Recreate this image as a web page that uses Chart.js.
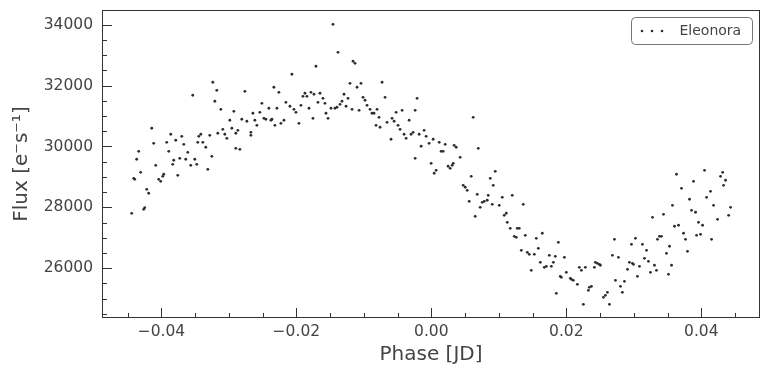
<!DOCTYPE html>
<html>
<head>
<meta charset="utf-8">
<script src="https://cdn.jsdelivr.net/npm/chart.js@4.4.1/dist/chart.umd.min.js"></script>
<style>
  html, body { margin: 0; padding: 0; background: #ffffff; }
  #wrap { width: 769px; height: 376px; }
</style>
</head>
<body>
<div id="wrap"><canvas id="c" width="769" height="376"></canvas></div>
<script>
const seriesLabel = "Eleonora";
const xTitle = "Phase [JD]";
const yTitle = "Flux [e\u207Bs\u207B\u00B9]";
const xTickValues = [-0.04, -0.02, 0.00, 0.02, 0.04];
const yTickValues = [26000, 28000, 30000, 32000, 34000];
const xRange = [-0.0488, 0.0487];
const yRange = [24366, 34483];

const phase = [
-0.04440,-0.04410,-0.04395,-0.04366,-0.04336,-0.04307,-0.04262,-0.04247,-0.04218,-0.04188,
-0.04143,-0.04114,-0.04084,-0.04039,-0.04010,-0.03980,-0.03965,-0.03921,-0.03891,-0.03861,
-0.03832,-0.03817,-0.03787,-0.03757,-0.03728,-0.03698,-0.03668,-0.03639,-0.03609,-0.03565,
-0.03535,-0.03505,-0.03476,-0.03461,-0.03446,-0.03416,-0.03386,-0.03342,-0.03312,-0.03283,
-0.03253,-0.03238,-0.03208,-0.03179,-0.03164,-0.03119,-0.03090,-0.03060,-0.03030,-0.02986,
-0.02956,-0.02926,-0.02897,-0.02897,-0.02867,-0.02837,-0.02808,-0.02763,-0.02733,-0.02674,
-0.02674,-0.02644,-0.02615,-0.02585,-0.02541,-0.02511,-0.02481,-0.02452,-0.02407,
-0.02377,-0.02362,-0.02333,-0.02318,-0.02288,-0.02259,-0.02229,-0.02184,-0.02155,-0.02095,
-0.02066,-0.02036,-0.02006,-0.01962,-0.01932,-0.01902,-0.01873,-0.01843,-0.01813,-0.01784,
-0.01754,-0.01739,-0.01710,-0.01680,-0.01650,-0.01606,-0.01576,-0.01561,-0.01531,-0.01487,
-0.01457,-0.01428,-0.01398,-0.01383,-0.01353,-0.01324,-0.01294,-0.01264,-0.01235,-0.01205,
-0.01175,-0.01160,-0.01131,-0.01101,-0.01071,-0.01042,-0.01012,-0.00982,-0.00953,-0.00908,
-0.00879,-0.00849,-0.00819,-0.00804,-0.00775,-0.00760,-0.00730,-0.00686,-0.00656,-0.00597,
-0.00582,-0.00552,-0.00522,-0.00493,-0.00463,-0.00433,-0.00404,-0.00374,-0.00329,-0.00300,
-0.00270,-0.00240,-0.00240,-0.00211,-0.00181,-0.00151,-0.00107,-0.00077,-0.00033,
-0.00003,0.00027,0.00042,0.00071,0.00116,0.00145,0.00175,0.00205,0.00249,0.00279,
0.00309,0.00324,0.00338,0.00368,0.00427,0.00472,0.00502,0.00531,0.00561,0.00591,
0.00620,0.00650,0.00680,0.00695,0.00724,0.00754,0.00784,0.00828,0.00843,0.00873,
0.00902,0.00917,0.00947,0.01006,0.01051,0.01080,0.01110,0.01125,0.01169,0.01199,
0.01229,0.01258,0.01273,0.01303,0.01333,0.01362,0.01392,0.01422,0.01451,0.01481,
0.01526,0.01555,0.01585,0.01615,0.01644,0.01674,0.01704,0.01748,0.01778,0.01808,
0.01837,0.01852,0.01882,0.01911,0.01926,0.01971,0.02000,0.02060,0.02075,0.02104,
0.02164,0.02193,0.02223,0.02253,0.02282,0.02327,0.02342,
0.02372,0.02416,0.02431,0.02460,0.02490,0.02505,0.02550,0.02579,0.02609,0.02639,
0.02683,0.02713,0.02728,0.02772,0.02802,0.02831,0.02861,0.02906,0.02935,0.02965,
0.02980,0.02995,0.03024,0.03054,0.03084,0.03128,0.03158,0.03188,0.03217,0.03247,
0.03277,0.03306,0.03336,0.03351,0.03381,0.03410,0.03440,0.03484,0.03514,0.03529,
0.03559,0.03573,0.03603,0.03633,0.03663,0.03707,0.03737,0.03766,0.03796,0.03826,
0.03855,0.03885,0.03915,0.03930,0.03959,0.03989,0.04019,0.04048,0.04078,0.04137,
0.04152,0.04182,0.04241,0.04286,0.04316,0.04330,0.04360,0.04405,0.04434
];

const flux = [
27805,28955,28922,29580,29842,29152,27937,27990,28594,28463,
30598,30105,29382,28922,28857,29021,29087,30138,29842,30401,
29415,29547,30204,29054,29612,30335,30072,29580,29809,29382,
31682,29580,29415,30138,30335,30401,30138,29974,29251,30368,
29678,32109,31485,31846,30434,31222,30565,30401,30269,30861,
30598,31156,30434,29941,30532,29908,30894,31813,30828,30466,
30368,31091,30861,30696,31123,31419,30926,30894,31255,
30861,30894,31945,30696,31255,31780,30762,30861,31452,31321,
32372,31222,31123,30762,31353,31649,31748,31649,31255,31780,
30926,31715,32635,31452,31748,31583,31419,31091,30926,31255,
34014,31255,31288,33094,31386,31485,31715,31321,31583,32076,
31222,32799,32733,31945,31189,32076,31616,31518,31353,31222,
31091,31091,30696,31222,30959,30631,32109,31616,30795,30237,
30926,30828,31123,30696,30565,31189,30401,30269,30861,30401,
30466,31189,29612,31583,30401,30007,30532,30335,30105,
29448,30237,29120,29218,30138,29842,29842,30072,29350,29284,
29382,29448,30039,29974,29645,28725,28660,28561,28200,29021,
30959,27707,28430,29941,28003,28167,28200,28233,28397,28955,
28101,28725,29185,28068,28331,27740,27806,27510,27313,28397,
27050,27017,27313,27313,26590,28101,27083,26524,26459,25933,
26459,26984,26656,26196,27149,26032,26065,26426,26065,26196,
26393,25178,26853,25736,25703,26360,25867,25670,25637,25605,
25473,26032,25933,24816,26032,25276,25375,
25408,26032,26196,26163,26130,26098,25046,25112,25211,24816,
26426,26951,25605,26360,25408,25211,25572,25966,26196,26787,
26163,26130,26984,25736,26065,26787,26327,26590,26229,25867,
27674,26098,25933,26951,27050,27050,27773,26492,25802,26722,
26098,28068,27379,29087,27412,28627,27149,26951,26557,28266,
27904,28857,27839,27083,27510,27116,27412,29218,28331,28528,
26951,28068,27608,29021,29152,28725,28890,27740,28003
];

const TEXT = '#444444';
const FRAME = '#333333';
const FONT = "'DejaVu Sans', sans-serif";

function fmtX(v) {
  const s = Math.abs(v).toFixed(2);
  return (v < -1e-9 ? '\u2212' : '') + s;
}

const framePlugin = {
  id: 'frameTicks',
  afterDraw(chart) {
    const {ctx, chartArea: a, scales} = chart;
    const xs = scales.x, ys = scales.y;
    ctx.save();
    ctx.strokeStyle = FRAME;
    ctx.lineWidth = 1;
    ctx.strokeRect(Math.round(a.left) + 0.5, Math.round(a.top) + 0.5,
                   Math.round(a.right - a.left) - 1, Math.round(a.bottom - a.top) - 1);
    ctx.beginPath();
    for (let k = Math.ceil(xRange[0] / 0.005); k * 0.005 <= xRange[1]; k++) {
      const v = k * 0.005;
      const major = (k % 4 === 0);
      const px = Math.round(xs.getPixelForValue(v)) + 0.5;
      const len = major ? 10 : 5;
      ctx.moveTo(px, a.bottom);
      ctx.lineTo(px, a.bottom - len);
    }
    for (let k = Math.ceil(yRange[0] / 500); k * 500 <= yRange[1]; k++) {
      const v = k * 500;
      const major = (k % 4 === 0);
      const py = Math.round(ys.getPixelForValue(v)) + 0.5;
      const len = major ? 10 : 5;
      ctx.moveTo(a.left, py);
      ctx.lineTo(a.left + len, py);
    }
    ctx.stroke();

    // legend
    const ds = chart.data.datasets[0];
    const bx = a.right - 128.5, by = a.top + 7.5, bw = 121, bh = 27, r = 4;
    ctx.beginPath();
    ctx.moveTo(bx + r, by);
    ctx.lineTo(bx + bw - r, by);
    ctx.arcTo(bx + bw, by, bx + bw, by + r, r);
    ctx.lineTo(bx + bw, by + bh - r);
    ctx.arcTo(bx + bw, by + bh, bx + bw - r, by + bh, r);
    ctx.lineTo(bx + r, by + bh);
    ctx.arcTo(bx, by + bh, bx, by + bh - r, r);
    ctx.lineTo(bx, by + r);
    ctx.arcTo(bx, by, bx + r, by, r);
    ctx.closePath();
    ctx.fillStyle = 'rgba(255,255,255,0.9)';
    ctx.fill();
    ctx.strokeStyle = '#777777';
    ctx.stroke();
    ctx.fillStyle = ds.backgroundColor;
    [10.5, 20.5, 30.5].forEach(dx => {
      ctx.beginPath();
      ctx.arc(bx + dx, by + bh / 2, 1.3, 0, Math.PI * 2);
      ctx.fill();
    });
    ctx.fillStyle = TEXT;
    ctx.font = "14px " + FONT;
    ctx.textBaseline = 'middle';
    ctx.textAlign = 'left';
    ctx.fillText(ds.label, bx + 48, by + bh / 2 + 0.5);
    ctx.restore();
  }
};

const points = phase.map((p, i) => ({x: p, y: flux[i]}));

new Chart(document.getElementById('c'), {
  type: 'scatter',
  data: {
    datasets: [{
      label: seriesLabel,
      data: points,
      backgroundColor: '#2e2e2e',
      borderWidth: 0,
      pointRadius: 1.4,
      pointHoverRadius: 1.4
    }]
  },
  options: {
    responsive: false,
    animation: false,
    events: [],
    layout: { padding: { left: 0, right: 9, top: 10, bottom: 0 } },
    plugins: { legend: { display: false }, tooltip: { enabled: false } },
    scales: {
      x: {
        type: 'linear',
        min: xRange[0], max: xRange[1],
        grid: { display: false, drawTicks: false },
        border: { display: false },
        afterFit(s) { s.height = 58; s.paddingLeft = 0; s.paddingRight = 0; },
        afterBuildTicks(s) { s.ticks = xTickValues.map(v => ({value: v})); },
        ticks: {
          color: TEXT, padding: 5, maxRotation: 0, autoSkip: false,
          font: { family: FONT, size: 15.5 },
          callback: (v) => fmtX(v)
        },
        title: {
          display: true, text: xTitle, color: TEXT,
          font: { family: FONT, size: 20 },
          padding: { top: 0, bottom: 9 }
        }
      },
      y: {
        type: 'linear',
        min: yRange[0], max: yRange[1],
        grid: { display: false, drawTicks: false },
        border: { display: false },
        afterFit(s) { s.width = 102; s.paddingTop = 0; s.paddingBottom = 0; },
        afterBuildTicks(s) { s.ticks = yTickValues.map(v => ({value: v})); },
        ticks: {
          color: TEXT, padding: 9, autoSkip: false,
          font: { family: FONT, size: 15.5 },
          callback: (v) => String(v)
        },
        title: {
          display: true, text: yTitle, color: TEXT,
          font: { family: FONT, size: 20 },
          padding: { top: 10, bottom: 0 }
        }
      }
    }
  },
  plugins: [framePlugin]
});
</script>
</body>
</html>
